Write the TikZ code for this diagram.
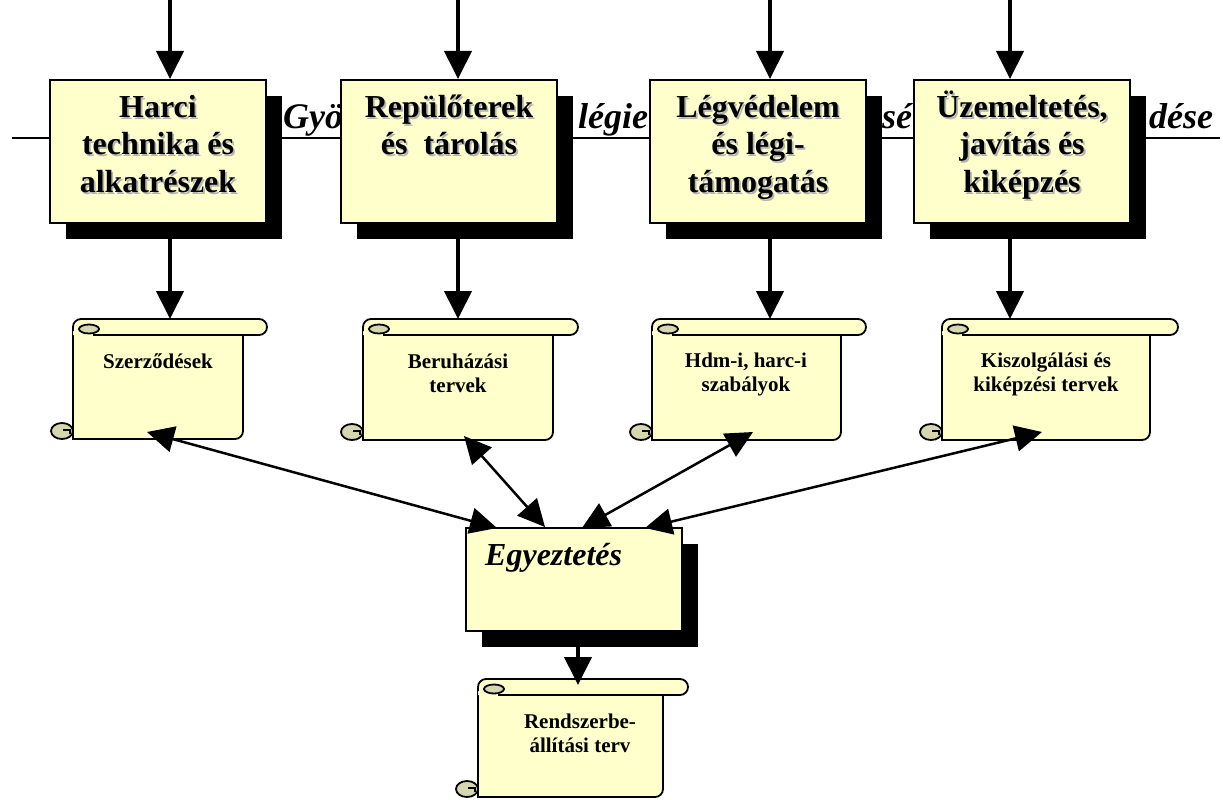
\documentclass[tikz,border=0pt]{standalone}
\usepackage{fontspec}
\setmainfont{Liberation Serif}
\usetikzlibrary{arrows.meta,calc,shadows}
\definecolor{paper}{HTML}{FFFFCC}
\definecolor{curlc}{HTML}{D7D7AF}
\definecolor{txtsh}{HTML}{B4B4B4}
\newcommand{\firstline}{\rule{0pt}{30pt}}
\newcommand{\sfirst}{\rule{0pt}{20pt}}
% horizontal scroll: L R T B E
\newcommand{\myscroll}[5]{%
 \filldraw[scrollline, fill=paper] (#1,{#3+8}) -- (#1,#4) -- ({#2-8},#4) .. controls ({#2-3.6},#4) and (#2,{#4-3.6}) .. (#2,{#4-8}) -- (#2,{#3+8});
 \fill[paper] (#1,{#3+8}) .. controls (#1,{#3+3.6}) and ({#1+3.6},#3) .. ({#1+8},#3) -- ({#5-8},#3) .. controls ({#5-3.6},#3) and (#5,{#3+3.6}) .. (#5,{#3+8}) .. controls (#5,{#3+12.4}) and ({#5-3.6},{#3+16}) .. ({#5-8},{#3+16}) -- (#1,{#3+16}) -- cycle;
 \draw[scrollline] (#1,{#3+12}) -- (#1,{#3+8}) .. controls (#1,{#3+3.6}) and ({#1+3.6},#3) .. ({#1+8},#3) -- ({#5-8},#3) .. controls ({#5-3.6},#3) and (#5,{#3+3.6}) .. (#5,{#3+8}) .. controls (#5,{#3+12.4}) and ({#5-3.6},{#3+16}) .. ({#5-8},{#3+16}) -- ({#1+20},{#3+16});
 \filldraw[scrollline, fill=curlc] ({#1+16},{#3+10}) ellipse [x radius=10, y radius=4.5];
 \filldraw[scrollline, fill=curlc] ({#1-11},{#4-8}) ellipse [x radius=11, y radius=8];
 \draw[line width=1.2pt] ({#1-10},{#4-9}) -- ({#1-3},{#4-9}) -- ({#1-3},{#4-5});
 \draw[scrollline] (#1,{#4-16}) -- (#1,#4);
}
\begin{document}
\begin{tikzpicture}[x=1pt,y=-1pt,
 scrollline/.style={line width=1.8pt, draw=black},
 topbox/.style={draw=black, line width=2pt, fill=paper, minimum width=216pt, minimum height=143pt, inner sep=0pt,
   general shadow={fill=black, shadow xshift=16pt, shadow yshift=-16pt}},
 ebox/.style={draw=black, line width=2pt, fill=paper, minimum width=216pt, minimum height=103pt, inner sep=0pt,
   general shadow={fill=black, shadow xshift=16pt, shadow yshift=-16pt}},
 boxtext/.style={anchor=north, inner sep=0pt, align=center, font=\fontsize{32}{37.5}\selectfont\bfseries},
 boxtextsh/.style={boxtext, text=txtsh},
 scrolltext/.style={anchor=north, inner sep=0pt, align=center, font=\fontsize{21}{24.5}\selectfont\bfseries},
 titlefrag/.style={anchor=base west, inner sep=0pt, font=\fontsize{36}{40}\selectfont\bfseries\itshape},
 etext/.style={anchor=base west, inner sep=0pt, font=\fontsize{32}{36}\selectfont\bfseries\itshape},
 titleline/.style={line width=1.3pt},
 vline/.style={line width=4pt, -{Triangle[length=28pt,width=27pt]}},
 dline/.style={line width=2.5pt, {Triangle[length=27pt,width=26pt]}-{Triangle[length=27pt,width=26pt]}}
]
\useasboundingbox (0,0) rectangle (1223,800);

% title line with fragments (mostly hidden behind boxes)
\coordinate (tl) at (12,138);
\coordinate (tr) at (1220,138);
\draw[titleline] (tl) -- (tr);
\node[titlefrag] (g1) at (283,128) {Gyö};
\node[titlefrag] (g2) at (578,128) {légie};
\node[titlefrag] (g3) at (882,128) {sé};
\node[titlefrag] (g4) at (1149,128) {dése};

% incoming arrows from top
\coordinate (t1) at (170,0);
\coordinate (t2) at (458,0);
\coordinate (t3) at (770,0);
\coordinate (t4) at (1010,0);

% top boxes
\node[topbox] (b1) at (158,151.5) {};
\node[topbox] (b2) at (449,151.5) {};
\node[topbox] (b3) at (758,151.5) {};
\node[topbox] (b4) at (1022,151.5) {};

\draw[vline] (t1) -- (t1 |- b1.north);
\draw[vline] (t2) -- (t2 |- b2.north);
\draw[vline] (t3) -- (t3 |- b3.north);
\draw[vline] (t4) -- (t4 |- b4.north);

\node[boxtextsh] (b1s) at ($(b1.north)+(1.8,9.8)$) {\firstline Harci\\technika és\\alkatrészek};
\node[boxtext] (b1x) at ($(b1.north)+(0,8)$) {\firstline Harci\\technika és\\alkatrészek};
\node[boxtextsh] (b2s) at ($(b2.north)+(1.8,9.8)$) {\firstline Repülőterek\\és\ \ tárolás};
\node[boxtext] (b2x) at ($(b2.north)+(0,8)$) {\firstline Repülőterek\\és\ \ tárolás};
\node[boxtextsh] (b3s) at ($(b3.north)+(1.8,9.8)$) {\firstline Légvédelem\\és légi-\\támogatás};
\node[boxtext] (b3x) at ($(b3.north)+(0,8)$) {\firstline Légvédelem\\és légi-\\támogatás};
\node[boxtextsh] (b4s) at ($(b4.north)+(1.8,9.8)$) {\firstline Üzemeltetés,\\javítás és\\kiképzés};
\node[boxtext] (b4x) at ($(b4.north)+(0,8)$) {\firstline Üzemeltetés,\\javítás és\\kiképzés};

% scrolls
\myscroll{73}{243}{319}{439}{267}
\myscroll{363}{553}{319}{440}{578}
\myscroll{652}{841}{319}{440}{866}
\myscroll{942}{1150}{319}{440}{1178}
\myscroll{478}{663}{679}{797}{688}

\coordinate (s1top) at (170,319);
\coordinate (s2top) at (458,319);
\coordinate (s3top) at (770,319);
\coordinate (s4top) at (1010,319);
\draw[vline] (t1 |- b1.south) -- (s1top);
\draw[vline] (t2 |- b2.south) -- (s2top);
\draw[vline] (t3 |- b3.south) -- (s3top);
\draw[vline] (t4 |- b4.south) -- (s4top);

\node[scrolltext] (s1x) at (158,348) {\sfirst Szerződések};
\node[scrolltext] (s2x) at (458,348) {\sfirst Beruházási\\tervek};
\node[scrolltext] (s3x) at (746,347) {\sfirst Hdm-i, harc-i\\szabályok};
\node[scrolltext] (s4x) at (1046,347) {\sfirst Kiszolgálási és\\kiképzési tervek};
\node[scrolltext] (s5x) at (580,708) {\sfirst Rendszerbe-\\állítási terv};

% coordination box
\node[ebox] (e) at (574,579.5) {};
\node[etext] (ex) at (485,565) {Egyeztetés};

% two-way arrows
\coordinate (a1s) at (147,432);
\coordinate (a1e) at (497,528);
\coordinate (a2s) at (464,436);
\coordinate (a2e) at (545,527);
\coordinate (a3s) at (753,432);
\coordinate (a3e) at (582,528);
\coordinate (a4s) at (1042,432);
\coordinate (a4e) at (645,528);
\draw[dline] (a1s) -- (a1e);
\draw[dline] (a2s) -- (a2e);
\draw[dline] (a3s) -- (a3e);
\draw[dline] (a4s) -- (a4e);

\coordinate (s5top) at (578,685);
\draw[vline] (s5top |- e.south) -- (s5top);
\end{tikzpicture}
\end{document}
